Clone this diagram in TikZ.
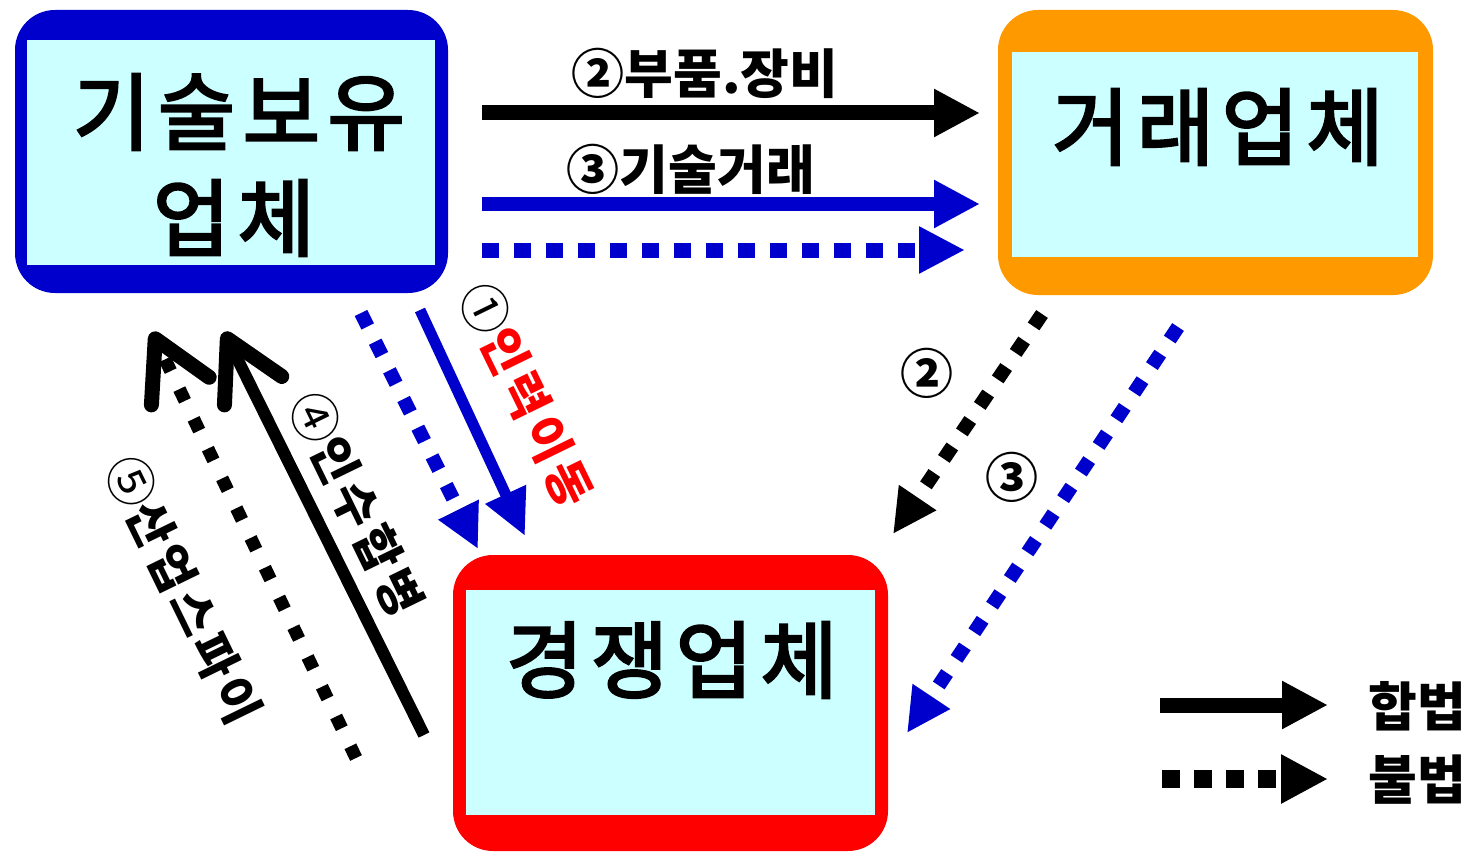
\documentclass[tikz,border=0pt]{standalone}
\usepackage{fontspec}
\newfontfamily\kr{Noto Sans CJK KR}
\newfontfamily\krbox{Noto Sans CJK KR}[FakeBold=3,LetterSpace=9]
\newfontfamily\krside{Noto Sans CJK KR}[LetterSpace=10]
\usetikzlibrary{arrows.meta}
\definecolor{boxfill}{RGB}{204,255,255}
\definecolor{ownblue}{RGB}{0,0,204}
\definecolor{tradeorange}{RGB}{255,153,0}
\definecolor{rivalred}{RGB}{255,0,0}
\newcommand\lightnum{\mdseries\fontsize{50}{60}\selectfont}
\begin{document}
\begin{tikzpicture}[x=1pt,y=-1pt,
  frame/.style={fill=#1,rounded corners=40pt},
  panel/.style={fill=boxfill,inner sep=0pt,anchor=north west},
  boxtext/.style={font=\krbox\fontsize{84}{100}\selectfont,inner sep=0pt},
  lbl/.style={font=\kr\bfseries\fontsize{53}{60}\selectfont,inner sep=0pt},
  sidelbl/.style={font=\krside\bfseries\fontsize{48}{60}\selectfont,inner sep=0pt,rotate=-64},
  legal/.style={line width=#1,-{Triangle[length=46pt,width=45pt]}},
  illegal/.style={line width=#1,dash pattern=on 17pt off 15pt,-{Triangle[length=46pt,width=44pt]}},
  diagdots/.style={line width=#1,dash pattern=on 15pt off 17pt,-{Triangle[length=44pt,width=42pt]}},
  barb/.style={-{Straight Barb[length=58pt,width=64pt,line width=15pt,round]}}
]
\useasboundingbox (0,0) rectangle (1471,853);

% company boxes: coloured rounded frame with a light panel inside
\fill[frame=ownblue] (15,10) rectangle (448,293);
\node[panel,minimum width=408pt,minimum height=225pt] (own) at (27,40) {};
\node[boxtext] (ownA) at (239,112) {기술보유};
\node[boxtext] (ownB) at (234,218) {업체};

\fill[frame=tradeorange] (998,10) rectangle (1433,295);
\node[panel,minimum width=406pt,minimum height=205pt] (trade) at (1012,52) {};
\node[boxtext] (tradeT) at (1218,127) {거래업체};

\fill[frame=rivalred] (453,555) rectangle (888,851);
\node[panel,minimum width=409pt,minimum height=225pt] (rival) at (466,590) {};
\node[boxtext] (rivalT) at (672,660) {경쟁업체};

% connector end points
\coordinate (h1s) at (482,113);  \coordinate (h1e) at (980,113);
\coordinate (h2s) at (482,204);  \coordinate (h2e) at (980,204);
\coordinate (h3s) at (482,250);  \coordinate (h3e) at (965,250);
\coordinate (m1s) at (420,310);  \coordinate (m1e) at (525,536);
\coordinate (m2s) at (361,313);  \coordinate (m2e) at (478,549);
\coordinate (t2s) at (1042,314); \coordinate (t2e) at (893,534);
\coordinate (t3s) at (1178,327); \coordinate (t3e) at (907,733);
\coordinate (a4s) at (424,735);  \coordinate (a4e) at (224,332);
\coordinate (a5s) at (356,758);  \coordinate (a5e) at (152,332);

% top: supply of parts and technology trade
\draw[legal=15pt,black] (h1s) -- (h1e);
\draw[legal=14pt,ownblue] (h2s) -- (h2e);
\draw[illegal=15pt,ownblue] (h3s) -- (h3e);
\node[lbl] (l2) at (705,73) {②부품.장비};
\node[lbl] (l3) at (691,169) {③기술거래};

% staff moving to the competitor
\draw[line width=11pt,ownblue,-{Triangle[length=46pt,width=42pt]}] (m1s) -- (m1e);
\draw[diagdots=14pt,ownblue] (m2s) -- (m2e);
\node[sidelbl] (l1) at (527,395) {{\lightnum\color{black}①}\textcolor{rivalred}{인력이동}};

% trading partner passing things on to the competitor
\draw[diagdots=14pt,black] (t2s) -- (t2e);
\draw[diagdots=14pt,ownblue] (t3s) -- (t3e);
\node[lbl] (c2) at (927,373) {②};
\node[lbl] (c3) at (1012,477) {③};

% takeover and industrial espionage
\draw[black,line width=12pt,barb] (a4s) -- (a4e);
\draw[black,line width=13pt,dash pattern=on 13pt off 20pt,barb] (a5s) -- (a5e);
\node[sidelbl] (l4) at (357,504) {{\lightnum ④}인수합병};
\node[sidelbl] (l5) at (184,590) {{\lightnum ⑤}산업스파이};

% legend
\coordinate (k1s) at (1160,705); \coordinate (k1e) at (1328,705);
\coordinate (k2s) at (1162,779); \coordinate (k2e) at (1328,779);
\draw[legal=15pt,black] (k1s) -- (k1e);
\draw[line width=18pt,dash pattern=on 18pt off 14pt,-{Triangle[length=47pt,width=46pt]}] (k2s) -- (k2e);
\node[lbl] (k1t) at (1417,706) {합법};
\node[lbl] (k2t) at (1417,780) {불법};
\end{tikzpicture}
\end{document}
